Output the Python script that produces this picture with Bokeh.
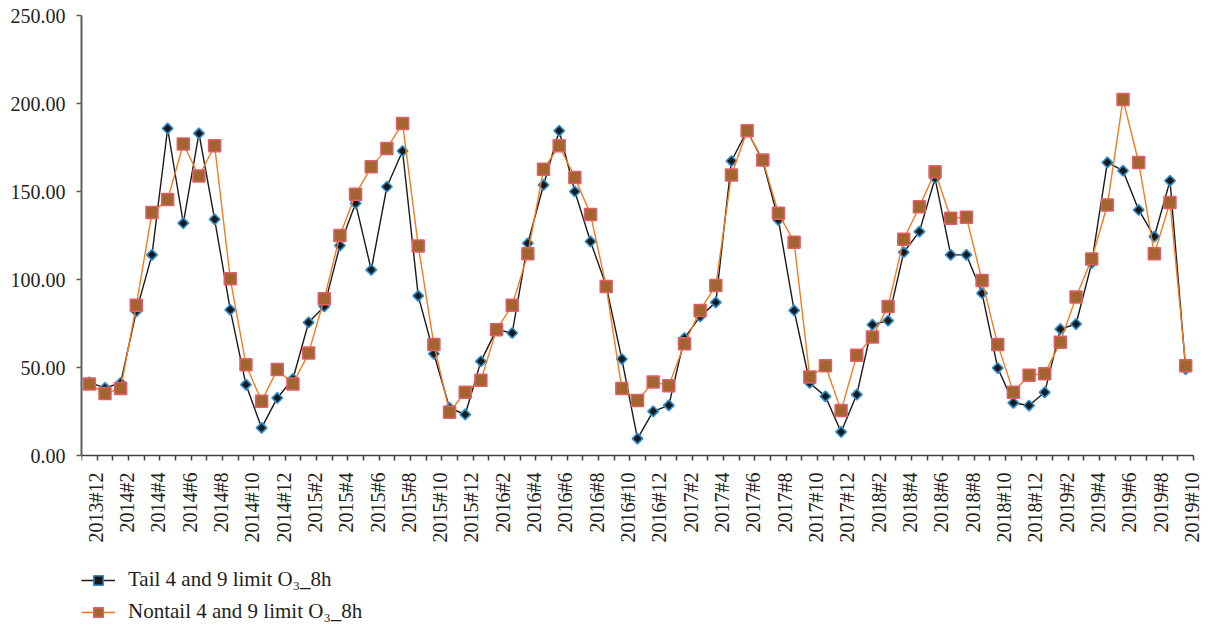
import numpy as np
from bokeh.plotting import figure
from bokeh.models import (FixedTicker, Range1d, Legend, LegendItem, NumeralTickFormatter)
from bokeh.embed import file_html
from bokeh.resources import INLINE

months = [
    "2013#12",
    "2014#1", "2014#2", "2014#3", "2014#4", "2014#5", "2014#6",
    "2014#7", "2014#8", "2014#9", "2014#10", "2014#11", "2014#12",
    "2015#1", "2015#2", "2015#3", "2015#4", "2015#5", "2015#6",
    "2015#7", "2015#8", "2015#9", "2015#10", "2015#11", "2015#12",
    "2016#1", "2016#2", "2016#3", "2016#4", "2016#5", "2016#6",
    "2016#7", "2016#8", "2016#9", "2016#10", "2016#11", "2016#12",
    "2017#1", "2017#2", "2017#3", "2017#4", "2017#5", "2017#6",
    "2017#7", "2017#8", "2017#9", "2017#10", "2017#11", "2017#12",
    "2018#1", "2018#2", "2018#3", "2018#4", "2018#5", "2018#6",
    "2018#7", "2018#8", "2018#9", "2018#10", "2018#11", "2018#12",
    "2019#1", "2019#2", "2019#3", "2019#4", "2019#5", "2019#6",
    "2019#7", "2019#8", "2019#9", "2019#10",
]

tail = [41.6, 38.4, 41.2, 81.9, 114.0, 185.8, 132.0, 183.0, 134.2, 82.8,
        40.3, 15.7, 32.7, 43.5, 75.6, 84.7, 119.3, 143.3, 105.5, 152.7,
        173.0, 90.7, 57.8, 27.0, 23.3, 53.5, 71.5, 69.6, 120.6, 153.7,
        184.5, 150.0, 121.6, 96.4, 54.8, 9.6, 25.1, 28.5, 66.7, 79.0,
        87.0, 167.3, 184.5, 167.3, 133.8, 82.4, 41.2, 33.6, 13.4, 34.6,
        74.3, 76.6, 115.5, 127.2, 157.5, 114.0, 114.0, 92.2, 49.7, 29.9,
        28.4, 35.9, 71.8, 74.7, 109.3, 166.5, 161.8, 139.5, 124.4, 156.1, 49.1]

nontail = [40.6, 35.2, 38.0, 85.3, 138.0, 145.4, 177.0, 158.8, 176.0, 100.4,
           51.6, 30.8, 48.8, 40.6, 58.2, 89.0, 125.0, 148.4, 164.0, 174.5,
           188.7, 119.1, 63.0, 24.6, 36.0, 42.7, 71.5, 85.3, 114.6, 162.6,
           176.0, 158.0, 137.0, 96.0, 38.0, 31.2, 41.8, 39.7, 63.5, 82.4,
           96.6, 159.4, 184.5, 167.9, 137.6, 121.2, 44.6, 51.0, 25.5, 56.9,
           67.3, 84.7, 122.9, 141.4, 161.2, 134.8, 135.3, 99.4, 63.0, 36.0,
           45.6, 46.5, 64.3, 90.0, 111.7, 142.3, 202.3, 166.5, 114.6, 143.8, 51.0]

y_ticks = [0, 50, 100, 150, 200, 250]

tail_label = "Tail 4 and 9 limit O\u2083_8h"
nontail_label = "Nontail 4 and 9 limit O\u2083_8h"

x = np.arange(len(months))
n = len(months)

FONT = "Liberation Serif"
TXT = "#231f20"

# layout: value axis spans 440 px (0..250); the frame continues below 0 to hold
# the category labels and the legend, which then are not clipped.
Y_MAX = 250
PLOT_PX = 440
FRAME_H = 614
y_min = -(FRAME_H - PLOT_PX) * Y_MAX / PLOT_PX
AXIS_PX = 1112          # width of the category axis
FRAME_W = 1127          # a little room on the right for the last label
x_end = -0.5 + n * FRAME_W / AXIS_PX

p = figure(frame_width=FRAME_W, frame_height=FRAME_H, output_backend="svg",
           toolbar_location=None,
           x_range=Range1d(-0.5, x_end), y_range=Range1d(y_min, Y_MAX),
           min_border_left=81, min_border_right=0, min_border_top=15,
           min_border_bottom=0)
p.outline_line_color = None
p.xgrid.visible = False
p.ygrid.visible = False
p.background_fill_color = "white"
p.border_fill_color = "white"

# y axis
p.yaxis.ticker = FixedTicker(ticks=y_ticks)
p.yaxis.bounds = (0, Y_MAX)
p.yaxis.formatter = NumeralTickFormatter(format="0.00")
p.yaxis.axis_line_color = "#5f5f5f"
p.yaxis.axis_line_width = 2
p.yaxis.major_tick_line_color = "#5f5f5f"
p.yaxis.major_tick_line_width = 1.5
p.yaxis.major_tick_out = 5
p.yaxis.major_tick_in = 0
p.yaxis.minor_tick_line_color = None
p.yaxis.major_label_text_font = FONT
p.yaxis.major_label_text_font_size = "20px"
p.yaxis.major_label_text_color = TXT
p.yaxis.major_label_standoff = 11

# x axis at value 0: labels every 2 months, ticks at month boundaries
label_pos = [float(i) + 0.4 for i in range(0, n, 2)]
overrides = {float(i) + 0.4: months[i] for i in range(0, n, 2)}
boundaries = [i - 0.5 for i in range(n + 1)]
p.xaxis.fixed_location = 0
p.xaxis.bounds = (-0.5, n - 0.5)
p.xaxis.ticker = FixedTicker(ticks=label_pos, minor_ticks=boundaries)
p.xaxis.major_label_overrides = overrides
p.xaxis.major_label_orientation = np.pi / 2
p.xaxis.major_tick_out = 0
p.xaxis.major_tick_in = 0
p.xaxis.minor_tick_out = 5
p.xaxis.minor_tick_in = 0
p.xaxis.minor_tick_line_color = "#404040"
p.xaxis.minor_tick_line_width = 1.5
p.xaxis.axis_line_color = "#404040"
p.xaxis.axis_line_width = 1.5
p.xaxis.major_label_text_font = FONT
p.xaxis.major_label_text_font_size = "20px"
p.xaxis.major_label_text_color = TXT
p.xaxis.major_label_standoff = 12

# series
l1 = p.line(x, tail, line_color="#1a1a1a", line_width=1.4)
s1 = p.scatter(x, tail, marker="square", angle=np.pi / 4, size=7.5,
               fill_color="#1a1a1a", line_color="#2f8fd0", line_width=1.6)
l2 = p.line(x, nontail, line_color="#f47b20", line_width=1.4)
s2 = p.scatter(x, nontail, marker="square", size=12,
               fill_color="#a3642f", line_color="#e0606a", line_width=1.5)

legend = Legend(items=[LegendItem(label=tail_label, renderers=[l1, s1]),
                       LegendItem(label=nontail_label, renderers=[l2, s2])],
                location=(0, 5), orientation="vertical")
legend.background_fill_alpha = 0
legend.border_line_alpha = 0
legend.padding = 0
legend.margin = 0
legend.spacing = 7
legend.glyph_width = 34
legend.glyph_height = 24
legend.label_height = 24
legend.label_standoff = 13
legend.label_text_font = FONT
legend.label_text_font_size = "21px"
legend.label_text_color = TXT
p.add_layout(legend)

open("out.html", "w").write(file_html(p, INLINE))
